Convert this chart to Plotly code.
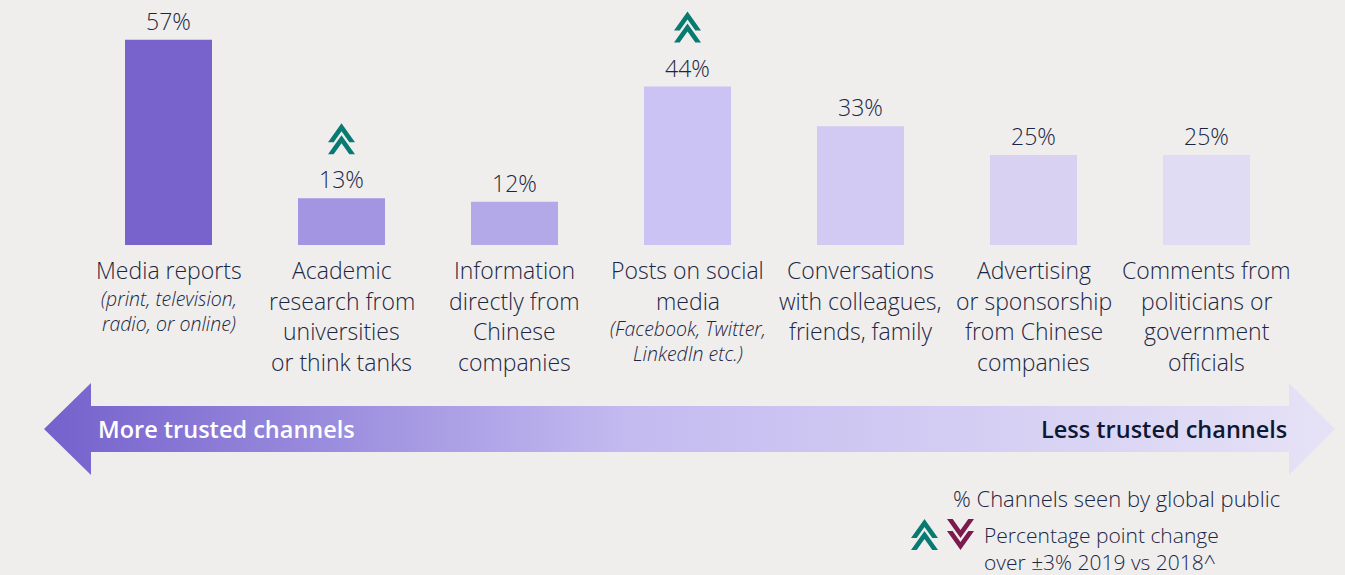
import plotly.graph_objects as go

# ---- data ----
values = [57, 13, 12, 44, 33, 25, 25]
label_lines = [
    ["Media reports"],
    ["Academic", "research from", "universities", "or think tanks"],
    ["Information", "directly from", "Chinese", "companies"],
    ["Posts on social", "media"],
    ["Conversations", "with colleagues,", "friends, family"],
    ["Advertising", "or sponsorship", "from Chinese", "companies"],
    ["Comments from", "politicians or", "government", "officials"],
]
sub_notes = [
    ["(print, television,", "radio, or online)"],
    [],
    [],
    ["(Facebook, Twitter,", "LinkedIn etc.)"],
    [],
    [],
    [],
]
changes = ["", "up", "", "up", "", "", ""]
bar_colors = ["#7862cb", "#a495e2", "#b4a9e8", "#cbc3f3", "#d2caf2", "#d8d1f2", "#e0dcf4"]

BG = "#efeeed"
TEXT = "#1b2642"
TEAL = "#087a72"
MAROON = "#7c1a4e"
FONT = "Open Sans"

# pixel helpers (figure is drawn with zero margins)
X0, STEP, Y0, PPU = 82, 173, 245, 3.6


def px2x(p):
    return (p - X0) / STEP - 0.5


def px2y(p):
    return (Y0 - p) / PPU


def x2px(x):
    return X0 + (x + 0.5) * STEP


def y2px(y):
    return Y0 - y * PPU


def chevron(cx, top, up=True, hw=13.5, ch=19, t=8, gap=12):
    xs, ys = [], []
    inner = hw * (ch - t) / ch
    for k in range(2):
        y0 = top + k * gap
        if up:
            pts = [(cx, y0), (cx + hw, y0 + ch), (cx + inner, y0 + ch), (cx, y0 + t),
                   (cx - inner, y0 + ch), (cx - hw, y0 + ch), (cx, y0)]
        else:
            yb = y0 + ch
            pts = [(cx, yb), (cx + hw, y0), (cx + inner, y0), (cx, yb - t),
                   (cx - inner, y0), (cx - hw, y0), (cx, yb)]
        for px, py in pts:
            xs.append(px2x(px))
            ys.append(px2y(py))
        xs.append(None)
        ys.append(None)
    return xs, ys


fig = go.Figure()

fig.add_trace(go.Bar(
    x=list(range(len(values))),
    y=values,
    width=87 / STEP,
    marker=dict(color=bar_colors, line=dict(width=0)),
    text=[f"{v}%" for v in values],
    textposition="outside",
    textfont=dict(family=FONT, size=23, color=TEXT, weight=300),
    cliponaxis=False,
    hoverinfo="skip",
))

# trust arrow
ax = [44, 91, 91, 1289, 1289, 1335, 1289, 1289, 91, 91, 44]
ay = [429, 383, 406, 406, 383, 429, 475, 452, 452, 475, 429]
fig.add_trace(go.Scatter(
    x=[px2x(p) for p in ax], y=[px2y(p) for p in ay],
    mode="lines", line=dict(width=0), fill="toself",
    fillgradient=dict(type="horizontal", colorscale=[
        [0, "#7461cc"], [0.45, "#c3baf0"], [1, "#e6e2f6"]]),
    hoverinfo="skip",
))

# change markers above bars
for i, c in enumerate(changes):
    if c:
        top = y2px(values[i]) - 44 - 31
        xs, ys = chevron(x2px(i), top, up=(c == "up"))
        fig.add_trace(go.Scatter(x=xs, y=ys, mode="lines", line=dict(width=0),
                                 fill="toself", fillcolor=TEAL if c == "up" else MAROON,
                                 hoverinfo="skip"))

# legend chevrons
for cx, up, col in [(924.5, True, TEAL), (960.5, False, MAROON)]:
    xs, ys = chevron(cx, 519, up=up)
    fig.add_trace(go.Scatter(x=xs, y=ys, mode="lines", line=dict(width=0),
                             fill="toself", fillcolor=col, hoverinfo="skip"))

annotations = []
for i, lines in enumerate(label_lines):
    py = 270
    for ln in lines:
        annotations.append(dict(x=i, y=px2y(py), text=ln, showarrow=False,
                                xanchor="center", yanchor="middle",
                                font=dict(family=FONT, size=23, color=TEXT, weight=300)))
        py += 30.5
    notes = sub_notes[i]
    if notes:
        first = py - 2.5
        centre = first + (len(notes) - 1) * 1.3 * 19.5 / 2
        annotations.append(dict(x=i, y=px2y(centre),
                                text="<br>".join(f"<i>{n}</i>" for n in notes),
                                showarrow=False, xanchor="center", yanchor="middle",
                                font=dict(family=FONT, size=19.5, color=TEXT, weight=300)))

annotations += [
    dict(x=px2x(96), y=px2y(429), text="More trusted channels", showarrow=False,
         xanchor="left", yanchor="middle",
         font=dict(family=FONT, size=23.5, color="white", weight=600)),
    dict(x=px2x(1289), y=px2y(429), text="Less trusted channels", showarrow=False,
         xanchor="right", yanchor="middle",
         font=dict(family=FONT, size=23.5, color="#0d1835", weight=600)),
    dict(x=px2x(1282), y=px2y(498), text="% Channels seen by global public", showarrow=False,
         xanchor="right", yanchor="middle",
         font=dict(family=FONT, size=22, color=TEXT, weight=300)),
    dict(x=px2x(982), y=px2y(548.5),
         text="Percentage point change<br>over \u00b13% 2019 vs 2018^", showarrow=False,
         xanchor="left", yanchor="middle", align="left",
         font=dict(family=FONT, size=21, color=TEXT, weight=300)),
]

fig.update_layout(
    width=1345, height=575,
    margin=dict(l=0, r=0, t=0, b=0),
    paper_bgcolor=BG, plot_bgcolor=BG,
    showlegend=False,
    annotations=annotations,
    xaxis=dict(range=[px2x(0), px2x(1345)], visible=False, fixedrange=True),
    yaxis=dict(range=[px2y(575), px2y(0)], visible=False, fixedrange=True),
)

fig.write_html("out.html", config={"displayModeBar": False},
               post_script="document.body.style.margin='0';document.body.style.overflow='hidden';")
